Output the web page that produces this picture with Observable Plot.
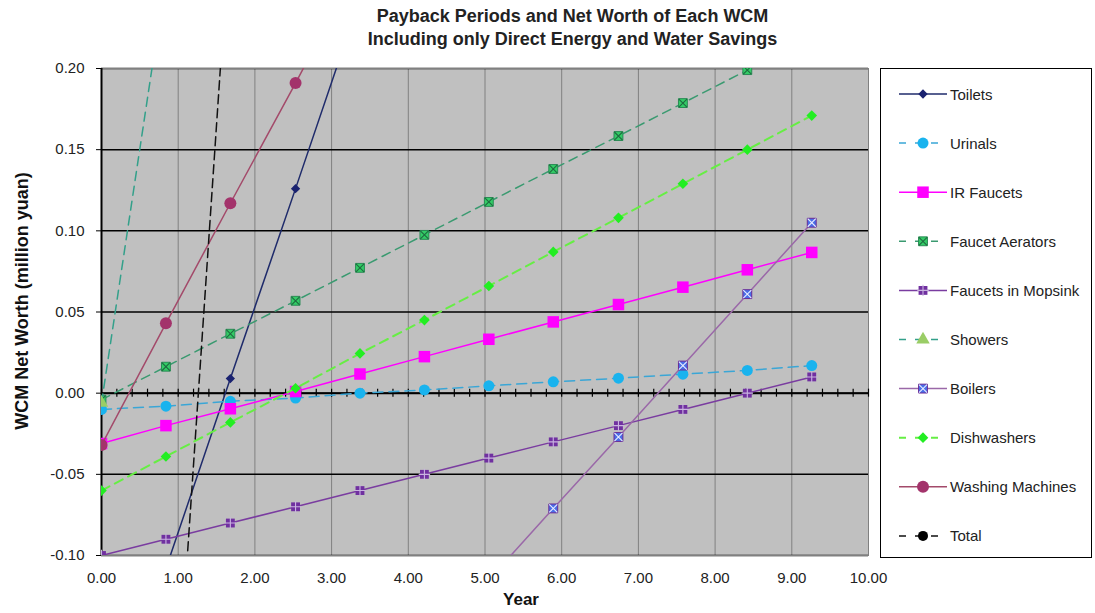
<!DOCTYPE html>
<html><head><meta charset="utf-8">
<script src="https://cdn.jsdelivr.net/npm/d3@7"></script>
<script src="https://cdn.jsdelivr.net/npm/@observablehq/plot@0.6"></script>
<style>
body{margin:0;background:#fff;font-family:"Liberation Sans",Arial,sans-serif;}
#wrap{position:relative;width:1095px;height:613px;overflow:hidden;}
#title{position:absolute;left:50px;top:5px;width:1045px;text-align:center;font-weight:bold;font-size:18px;line-height:23px;color:#222;}
#legend{position:absolute;left:880px;top:68px;}
#chart{position:absolute;left:0;top:0;}
</style></head><body>
<div id="wrap"><div id="chart"></div><div id="title">Payback Periods and Net Worth of Each WCM<br>Including only Direct Energy and Water Savings</div><div id="legend"></div></div>
<script>
const years = [0.00, 0.84, 1.68, 2.53, 3.37, 4.21, 5.05, 5.89, 6.74, 7.58, 8.42, 9.26];
const seriesNames = ["Toilets","Urinals","IR Faucets","Faucet Aerators","Faucets in Mopsink","Showers","Boilers","Dishwashers","Washing Machines","Total"];
const toilets        = [-0.225, -0.108, 0.009, 0.126, 0.243, null, null, null, null, null, null, null];
const urinals        = [-0.010, -0.008, -0.005, -0.003, 0.000, 0.002, 0.0045, 0.007, 0.0092, 0.0117, 0.014, 0.017];
const irFaucets      = [-0.031, -0.020, -0.0096, 0.001, 0.0118, 0.0225, 0.0332, 0.0439, 0.0546, 0.0653, 0.076, 0.0867];
const faucetAerators = [-0.004, 0.0163, 0.0366, 0.0569, 0.0772, 0.0975, 0.1178, 0.1381, 0.1584, 0.1787, 0.199, 0.2193];
const mopsink        = [-0.100, -0.090, -0.080, -0.070, -0.060, -0.050, -0.040, -0.030, -0.020, -0.010, 0.000, 0.010];
const showers        = [-0.006, 0.257, null, null, null, null, null, null, null, null, null, null];
const boilers        = [null, null, null, null, null, -0.159, -0.115, -0.071, -0.027, 0.017, 0.061, 0.105];
const dishwashers    = [-0.060, -0.039, -0.018, 0.003, 0.0245, 0.045, 0.066, 0.087, 0.108, 0.129, 0.150, 0.171];
const washing        = [-0.032, 0.043, 0.117, 0.191, 0.266, null, null, null, null, null, null, null];
const total          = [null, -0.295, 0.291, null, null, null, null, null, null, null, null, null];
const seriesValues = [toilets, urinals, irFaucets, faucetAerators, mopsink, showers, boilers, dishwashers, washing, total];
const xTicks = [0,1,2,3,4,5,6,7,8,9,10];
const xMinorTicks = d3.range(0, 51).map(i => i / 5);
const yTicks = [-0.10, -0.05, 0.00, 0.05, 0.10, 0.15, 0.20];

const styles = [
  {stroke:"#1f2b6b", dash:null, w:1.5, sym:"diamond2", r:4.2, fill:"#1a2270", mstroke:"none"},
  {stroke:"#3aa6d6", dash:"10,6", w:1.5, sym:"circle", r:5.5, fill:"#19b3ee", mstroke:"none"},
  {stroke:"#ff00ff", dash:null, w:1.5, sym:"square", r:6.5, fill:"#ff00ff", mstroke:"none"},
  {stroke:"#3a9a70", dash:"9,6", w:1.5, sym:"square", r:5, fill:"#33cc66", mstroke:"#2a8a55", over:"times", overStroke:"#1f6a40"},
  {stroke:"#7a3ca0", dash:null, w:1.5, sym:"square", r:5, fill:"#7030a0", mstroke:"none", over:"plus", overStroke:"#c9b3e0"},
  {stroke:"#33a08a", dash:"9,6", w:1.5, sym:"triangle", r:5, fill:"#9acd66", mstroke:"none"},
  {stroke:"#9a68a8", dash:null, w:1.5, sym:"square", r:5, fill:"#4a6ee8", mstroke:"#6a2c96", over:"times", overStroke:"#e8ecff"},
  {stroke:"#66ee44", dash:"9,6", w:2, sym:"diamond2", r:4.8, fill:"#22ee22", mstroke:"none"},
  {stroke:"#a34a6a", dash:null, w:1.5, sym:"circle", r:6, fill:"#a3336b", mstroke:"none"},
  {stroke:"#111111", dash:"9,5", w:1.5, sym:"circle", r:5, fill:"#000000", mstroke:"none"}
];

const fmt = d => { const s = d.toFixed(2); return s === "-0.00" ? "0.00" : s; };

const seriesMarks = [];
seriesNames.forEach((name, k) => {
  const rows = years.map((x, i) => ({name, x, y: seriesValues[k][i]})).filter(d => d.y != null);
  const s = styles[k];
  seriesMarks.push(Plot.line(rows, {x:"x", y:"y", stroke:s.stroke, strokeWidth:s.w, strokeDasharray:s.dash || undefined, clip:true}));
  seriesMarks.push(Plot.dot(rows, {x:"x", y:"y", symbol:s.sym, r:s.r, fill:s.fill, stroke:s.mstroke, strokeWidth:1, clip:true}));
  if (s.over) seriesMarks.push(Plot.dot(rows, {x:"x", y:"y", symbol:s.over, r:s.r*0.75, fill:"none", stroke:s.overStroke, strokeWidth:1.1, clip:true}));
});

const chart = Plot.plot({
  width:1095, height:613,
  marginTop:68, marginLeft:101, marginRight:227, marginBottom:58,
  x:{domain:[0,10]},
  y:{domain:[-0.10,0.20]},
  style:{fontFamily:'"Liberation Sans", Arial, sans-serif', fontSize:"15px", background:"transparent", color:"#222"},
  marks:[
    Plot.frame({fill:"#c0c0c0", stroke:"none"}),
    Plot.gridX({ticks:xTicks, stroke:"#808080", strokeOpacity:1, strokeWidth:1}),
    Plot.gridY({ticks:yTicks, stroke:"#000", strokeOpacity:1, strokeWidth:1.5}),
    Plot.frame({stroke:"#808080", strokeWidth:1}),
    Plot.ruleY([0], {stroke:"#000", strokeWidth:2}),
    Plot.ruleX(xMinorTicks, {x:d => d, y1:0, y2:0, insetTop:-4, insetBottom:-4, stroke:"#000", strokeWidth:1.2}),
    Plot.ruleX([0], {stroke:"#000", strokeWidth:2}),
    Plot.axisY({ticks:yTicks, tickFormat:fmt, tickSize:5, tickPadding:12, label:null, fontSize:15, stroke:"#000"}),
    Plot.axisX({ticks:xTicks, tickFormat:fmt, tickSize:0, tickPadding:17, label:null, fontSize:15}),
    ...seriesMarks,
    Plot.text(["WCM Net Worth (million yuan)"], {frameAnchor:"left", dx:-79, dy:-11, rotate:-90, fontWeight:"bold", fontSize:18, textAnchor:"middle", lineAnchor:"middle", fill:"#111"}),
    Plot.text(["Year"], {frameAnchor:"bottom", dx:36, dy:44, fontWeight:"bold", fontSize:17, textAnchor:"middle", lineAnchor:"middle", fill:"#111"})
  ]
});
document.getElementById("chart").appendChild(chart);

// Legend
const symMap = {circle:d3.symbolCircle, diamond2:d3.symbolDiamond2, square:d3.symbolSquare, triangle:d3.symbolTriangle, times:d3.symbolTimes, plus:d3.symbolPlus};
const lw = 212, lh = 490;
const lsvg = d3.select("#legend").append("svg").attr("width", lw).attr("height", lh);
lsvg.append("rect").attr("x",0.5).attr("y",0.5).attr("width",lw-1).attr("height",lh-1).attr("fill","#fff").attr("stroke","#000").attr("stroke-width",1);
seriesNames.forEach((name, k) => {
  const s = styles[k];
  const cy = 26 + k * 49.1;
  const g = lsvg.append("g");
  g.append("line").attr("x1",19).attr("x2",67).attr("y1",cy).attr("y2",cy).attr("stroke",s.stroke).attr("stroke-width",s.w).attr("stroke-dasharray", s.dash ? "7,9" : null);
  g.append("path").attr("transform",`translate(43,${cy})`).attr("d", d3.symbol(symMap[s.sym], Math.PI*s.r*s.r)()).attr("fill",s.fill).attr("stroke",s.mstroke);
  if (s.over) g.append("path").attr("transform",`translate(43,${cy})`).attr("d", d3.symbol(symMap[s.over], Math.PI*(s.r*0.75)**2)()).attr("fill","none").attr("stroke",s.overStroke).attr("stroke-width",1.1);
  g.append("text").attr("x",70).attr("y",cy+5.5).text(name).attr("font-size",15).attr("fill","#222").attr("font-family",'"Liberation Sans", Arial, sans-serif');
});
</script>
</body></html>
